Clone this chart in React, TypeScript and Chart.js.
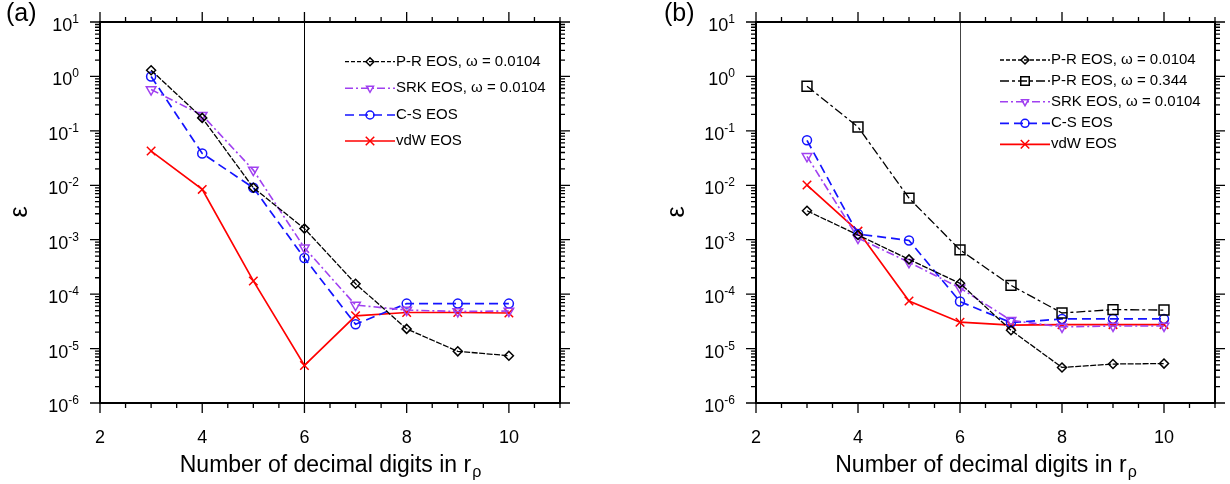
import React, { useEffect, useRef } from "react";
import { Chart, registerables } from "chart.js";
Chart.register(...registerables);

const digits = [3, 4, 5, 6, 7, 8, 9, 10];
const xTickValues = [2, 4, 6, 8, 10];
const yDecades = [-6, -5, -4, -3, -2, -1, 0, 1];

// Panel (a)
const aPR0104 = [1.3, 0.173, 0.009, 0.0016, 1.55e-4, 2.3e-5, 8.9e-6, 7.4e-6];
const aSRK = [0.575, 0.194, 0.019, 7.1e-4, 6.3e-5, 5.1e-5, 4.8e-5, 4.9e-5];
const aCS = [1.0, 0.0385, 0.009, 4.6e-4, 2.8e-5, 6.7e-5, 6.7e-5, 6.7e-5];
const aVdW = [0.0425, 0.0084, 1.75e-4, 4.9e-6, 4.0e-5, 4.6e-5, 4.6e-5, 4.5e-5];

// Panel (b)
const bPR0104 = [3.4e-3, 1.22e-3, 4.35e-4, 1.58e-4, 2.17e-5, 4.5e-6, 5.2e-6, 5.3e-6];
const bPR344 = [0.66, 0.118, 5.8e-3, 6.5e-4, 1.45e-4, 4.5e-5, 5.2e-5, 5.1e-5];
const bSRK = [0.034, 1.07e-3, 3.85e-4, 1.3e-4, 3.3e-5, 2.5e-5, 2.6e-5, 2.6e-5];
const bCS = [0.067, 1.27e-3, 9.7e-4, 7.3e-5, 3.0e-5, 3.5e-5, 3.5e-5, 3.5e-5];
const bVdW = [0.0101, 1.44e-3, 7.5e-5, 3.05e-5, 2.7e-5, 2.75e-5, 2.75e-5, 2.75e-5];

const FONT = '"Liberation Sans", Arial, Helvetica, sans-serif';
const PURPLE = "#a040f0";
const BLUE = "#1414ff";
const RED = "#ff0000";

type Style = {
  label: string;
  color: string;
  dash: number[];
  marker: string;
  radius: number;
  width: number;
  rotation?: number;
};

const sPR0104: Style = { label: "P-R EOS, \u03c9 = 0.0104", color: "#000", dash: [6, 1.5], marker: "rectRot", radius: 4.5, width: 1.3 };
const sPR344: Style = { label: "P-R EOS, \u03c9 = 0.344", color: "#000", dash: [9, 3, 3, 3], marker: "rect", radius: 7, width: 1.3 };
const sSRK: Style = { label: "SRK EOS, \u03c9 = 0.0104", color: PURPLE, dash: [8, 3, 2, 3], marker: "triangle", radius: 5.5, width: 1.6, rotation: 180 };
const sCS: Style = { label: "C-S EOS", color: BLUE, dash: [9, 5], marker: "circle", radius: 4.5, width: 1.7 };
const sVdW: Style = { label: "vdW EOS", color: RED, dash: [], marker: "crossRot", radius: 6, width: 1.7 };

function makeDataset(s: Style, values: number[]) {
  return {
    label: s.label,
    data: digits.map((x, i) => ({ x, y: values[i] })),
    borderColor: s.color,
    backgroundColor: "rgba(0,0,0,0)",
    borderDash: s.dash,
    borderWidth: s.width,
    pointStyle: s.marker,
    pointRadius: s.radius,
    pointBorderColor: s.color,
    pointBackgroundColor: "rgba(0,0,0,0)",
    pointBorderWidth: 1.5,
    pointRotation: s.rotation || 0,
    tension: 0,
    fill: false,
  };
}

function drawMarker(ctx: CanvasRenderingContext2D, s: Style, x: number, y: number, r: number) {
  ctx.save();
  ctx.setLineDash([]);
  ctx.strokeStyle = s.color;
  ctx.lineWidth = 1.5;
  ctx.beginPath();
  if (s.marker === "rectRot") {
    ctx.moveTo(x, y - r);
    ctx.lineTo(x + r, y);
    ctx.lineTo(x, y + r);
    ctx.lineTo(x - r, y);
    ctx.closePath();
  } else if (s.marker === "rect") {
    const h = r * Math.SQRT1_2;
    ctx.rect(x - h, y - h, 2 * h, 2 * h);
  } else if (s.marker === "triangle") {
    ctx.moveTo(x - r * 0.87, y - r * 0.5);
    ctx.lineTo(x + r * 0.87, y - r * 0.5);
    ctx.lineTo(x, y + r);
    ctx.closePath();
  } else if (s.marker === "circle") {
    ctx.arc(x, y, r, 0, Math.PI * 2);
  } else if (s.marker === "crossRot") {
    const h = r * Math.SQRT1_2;
    ctx.moveTo(x - h, y - h);
    ctx.lineTo(x + h, y + h);
    ctx.moveTo(x - h, y + h);
    ctx.lineTo(x + h, y - h);
  }
  ctx.stroke();
  ctx.restore();
}

type PanelCfg = {
  tag: string;
  tagX: number;
  epsX: number;
  legend: Style[];
  legendX0: number;
  legendX1: number;
  legendRows: number[];
  vlineColor: string;
};

function makePlugin(cfg: PanelCfg) {
  return {
    id: "decor",
    beforeDatasetsDraw(chart: any) {
      const ctx = chart.ctx as CanvasRenderingContext2D;
      const a = chart.chartArea;
      const xs = chart.scales.x;
      const x6 = Math.round(xs.getPixelForValue(6)) + 0.5;
      ctx.save();
      ctx.strokeStyle = cfg.vlineColor;
      ctx.lineWidth = 1;
      ctx.beginPath();
      ctx.moveTo(x6, a.top);
      ctx.lineTo(x6, a.bottom);
      ctx.stroke();
      ctx.restore();
    },
    afterDraw(chart: any) {
      const ctx = chart.ctx as CanvasRenderingContext2D;
      const a = chart.chartArea;
      const xs = chart.scales.x;
      const ys = chart.scales.y;
      ctx.save();
      ctx.setLineDash([]);
      ctx.strokeStyle = "#000";
      ctx.fillStyle = "#000";
      // frame
      ctx.lineWidth = 2;
      ctx.strokeRect(a.left, a.top, a.right - a.left, a.bottom - a.top);
      // x ticks (every 0.5, major at even)
      ctx.lineWidth = 1.3;
      ctx.beginPath();
      for (let v = 2; v <= 11.001; v += 0.5) {
        const px = xs.getPixelForValue(v);
        const major = Math.abs(v % 2) < 1e-6;
        const len = major ? 10 : 5;
        ctx.moveTo(px, a.bottom);
        ctx.lineTo(px, a.bottom + len);
        ctx.moveTo(px, a.top);
        ctx.lineTo(px, a.top - len);
      }
      // y ticks
      for (let d = -6; d <= 1; d++) {
        for (let m = 1; m <= 9; m++) {
          if (d === 1 && m > 1) break;
          const py = ys.getPixelForValue(m * Math.pow(10, d));
          const len = m === 1 ? 10 : 5;
          ctx.moveTo(a.left, py);
          ctx.lineTo(a.left - len, py);
          ctx.moveTo(a.right, py);
          ctx.lineTo(a.right + len, py);
        }
      }
      ctx.stroke();

      // x tick labels
      ctx.font = `18px ${FONT}`;
      ctx.textAlign = "center";
      ctx.textBaseline = "alphabetic";
      for (const v of xTickValues) {
        ctx.fillText(String(v), xs.getPixelForValue(v), 443);
      }
      // y tick labels 10^n
      for (const d of yDecades) {
        const py = ys.getPixelForValue(Math.pow(10, d));
        const exp = d < 0 ? "-" + String(-d) : String(d);
        ctx.font = `12px ${FONT}`;
        const ew = ctx.measureText(exp).width;
        ctx.font = `18px ${FONT}`;
        const bw = ctx.measureText("10").width;
        const right = a.left - 21;
        ctx.textAlign = "left";
        ctx.fillText("10", right - ew - bw, py + 9);
        ctx.font = `12px ${FONT}`;
        ctx.fillText(exp, right - ew, py + 1);
      }
      // x title
      const main = "Number of decimal digits in r";
      ctx.font = `23px ${FONT}`;
      const mw = ctx.measureText(main).width;
      ctx.font = `16px ${FONT}`;
      const sw = ctx.measureText("\u03c1").width;
      const cx = (a.left + a.right) / 2;
      const start = cx - (mw + sw) / 2;
      ctx.font = `23px ${FONT}`;
      ctx.textAlign = "left";
      ctx.fillText(main, start, 472);
      ctx.font = `16px ${FONT}`;
      ctx.fillText("\u03c1", start + mw + 1, 477);
      // y title epsilon
      ctx.save();
      ctx.translate(cfg.epsX, 212);
      ctx.rotate(-Math.PI / 2);
      ctx.font = `25px ${FONT}`;
      ctx.textAlign = "center";
      ctx.textBaseline = "middle";
      ctx.fillText("\u03b5", 0, 0);
      ctx.restore();
      // panel tag
      ctx.font = `25px ${FONT}`;
      ctx.textAlign = "left";
      ctx.textBaseline = "alphabetic";
      ctx.fillText(cfg.tag, cfg.tagX, 21);

      // legend
      cfg.legend.forEach((s, i) => {
        const y = cfg.legendRows[i];
        ctx.save();
        ctx.strokeStyle = s.color;
        ctx.lineWidth = s.width;
        ctx.setLineDash(s.dash[0] === 6 ? [4, 2] : s.dash);
        ctx.beginPath();
        ctx.moveTo(cfg.legendX0, y);
        ctx.lineTo(cfg.legendX1, y);
        ctx.stroke();
        ctx.restore();
        const mx = (cfg.legendX0 + cfg.legendX1) / 2;
        const r = s.marker === "rect" ? 6 : s.marker === "crossRot" ? 6 : 4;
        drawMarker(ctx, s, mx, y, r);
        ctx.font = `15px ${FONT}`;
        ctx.fillStyle = "#000";
        ctx.textAlign = "left";
        ctx.textBaseline = "middle";
        ctx.fillText(s.label, cfg.legendX1 + 1, y);
      });
      ctx.restore();
    },
  };
}

function Panel(props: {
  sets: { s: Style; v: number[] }[];
  cfg: PanelCfg;
  padLeft: number;
  padRight: number;
  left: number;
}) {
  const ref = useRef<HTMLCanvasElement | null>(null);
  useEffect(() => {
    if (!ref.current) return;
    const chart = new Chart(ref.current, {
      type: "line",
      data: { datasets: props.sets.map((d) => makeDataset(d.s, d.v)) as any },
      options: {
        responsive: false,
        animation: false,
        layout: { padding: { left: props.padLeft, right: props.padRight, top: 22, bottom: 81 } },
        plugins: { legend: { display: false }, tooltip: { enabled: false } },
        scales: {
          x: { type: "linear", min: 2, max: 11, display: false },
          y: { type: "logarithmic", min: 1e-6, max: 10, display: false },
        },
      },
      plugins: [makePlugin(props.cfg) as any],
    });
    return () => chart.destroy();
  }, []);
  return (
    <canvas
      ref={ref}
      width={615}
      height={484}
      style={{ position: "absolute", left: props.left, top: 0, width: 615, height: 484 }}
    />
  );
}

export default function App() {
  const cfgA: PanelCfg = {
    tag: "(a)",
    tagX: 6,
    epsX: 20,
    legend: [sPR0104, sSRK, sCS, sVdW],
    legendX0: 345,
    legendX1: 395,
    legendRows: [61.7, 88.3, 115, 141],
    vlineColor: "#000",
  };
  const cfgB: PanelCfg = {
    tag: "(b)",
    tagX: 49,
    epsX: 62,
    legend: [sPR0104, sPR344, sSRK, sCS, sVdW],
    legendX0: 385,
    legendX1: 435,
    legendRows: [60, 81, 101.7, 123.3, 144.3],
    vlineColor: "#444",
  };
  return (
    <div style={{ position: "absolute", left: 0, top: 0, width: 1230, height: 484, background: "#fff" }}>
      <Panel
        left={0}
        padLeft={100}
        padRight={55}
        cfg={cfgA}
        sets={[
          { s: sPR0104, v: aPR0104 },
          { s: sSRK, v: aSRK },
          { s: sCS, v: aCS },
          { s: sVdW, v: aVdW },
        ]}
      />
      <Panel
        left={615}
        padLeft={141}
        padRight={15}
        cfg={cfgB}
        sets={[
          { s: sPR0104, v: bPR0104 },
          { s: sPR344, v: bPR344 },
          { s: sSRK, v: bSRK },
          { s: sCS, v: bCS },
          { s: sVdW, v: bVdW },
        ]}
      />
    </div>
  );
}
